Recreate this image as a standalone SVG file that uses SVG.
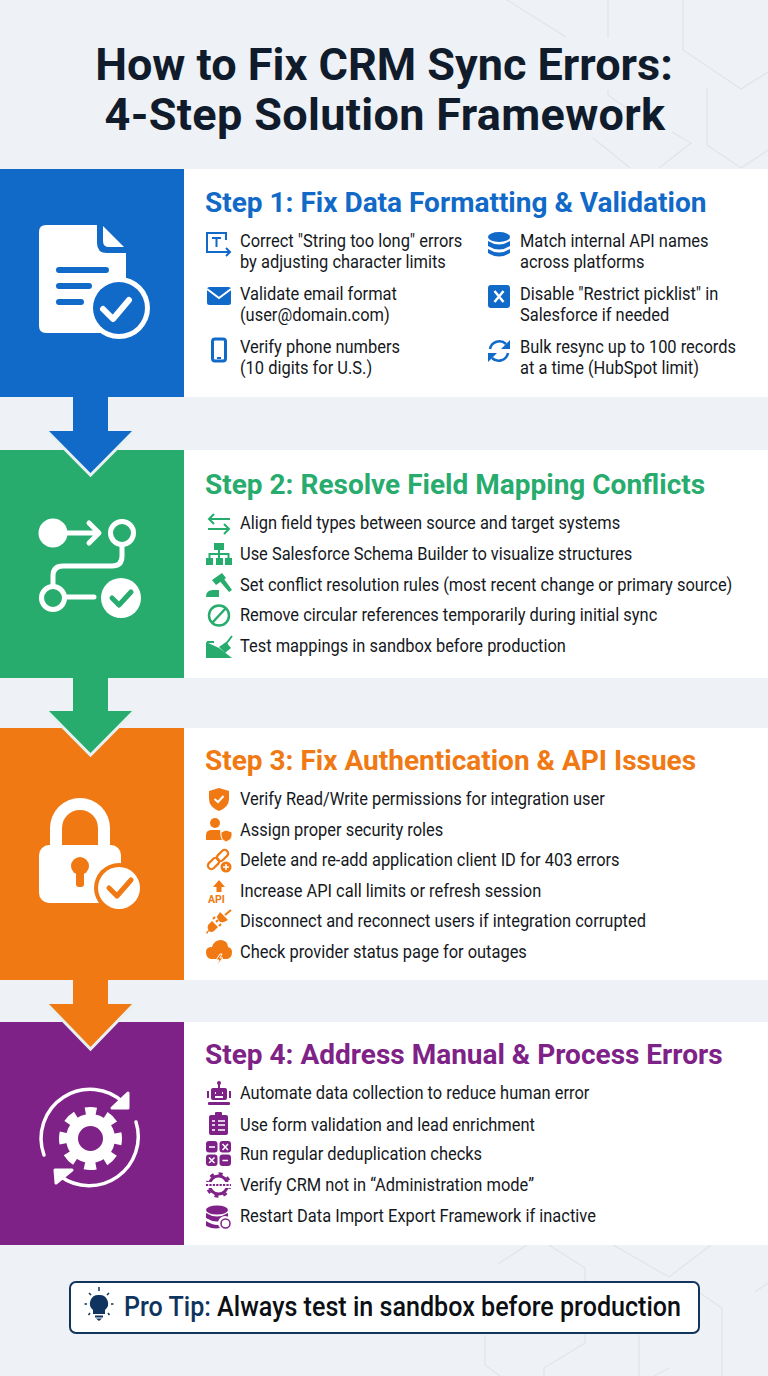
<svg xmlns="http://www.w3.org/2000/svg" width="768" height="1376" viewBox="0 0 768 1376">
<style>
text{font-family:Roboto,"Liberation Sans",sans-serif}
.title{font-size:45px;font-weight:700;fill:#101c2c;text-anchor:middle}
.h{font-size:28px;font-weight:700}
.t{font-size:17.5px;font-weight:400;fill:#15181d}
.bl{fill:#1169c8}.gr{fill:#27ac6e}.or{fill:#f07913}.pu{fill:#7e2287}
.sb{fill:none;stroke:#1169c8}.sg{fill:none;stroke:#27ac6e}.so{fill:none;stroke:#f07913}.sp{fill:none;stroke:#7e2287}
.w{fill:#fff}.sw{fill:none;stroke:#fff}
.hex{fill:none;stroke:#e0e5ea;stroke-width:1.2}
.v{fill:none;stroke:#e8f1f2;stroke-width:6}
</style>
<rect width="768" height="1376" fill="#eef1f5"/>
<g id="background-lines" class="hex">
<path d="M507 0L566 37M608 0V38M683 0V50L741 89L768 72M608 90V95L640 118M707 88V145L741 168L768 150M593 138L630 168M672 132L691 143L659 168"/>
<path d="M498 1264L527 1245M549 1245L585 1268V1343L544 1368V1376M613 1245L669 1277L711 1245M755 1292L768 1283M700 1293L722 1308V1376M485 1335V1365L500 1376M639 1335V1376M669 1368L654 1376"/>
</g>
<g id="title">
<text class="title" x="384" y="80">How to Fix CRM Sync Errors:</text>
<text class="title" x="385" y="130" letter-spacing=".33">4-Step Solution Framework</text>
</g>

<g id="step1">
<rect x="184" y="169" width="584" height="228" fill="#fff"/>
<rect y="169" width="184" height="228" class="bl"/>
<g id="step1-icon">
<path class="w" d="M46 225H97V243Q97 253 107 253H126V320Q126 333 113 333H46Q39 333 39 326V232Q39 225 46 225Z"/>
<path class="w" d="M103 226L124 247H109Q103 247 103 241Z"/>
<g class="sb" stroke-width="6" stroke-linecap="round"><path d="M59 270H106M59 286H89M59 302H81"/></g>
<circle cx="119" cy="308" r="31" class="w"/><circle cx="119" cy="308" r="26" class="bl"/>
<path class="sw" stroke-width="6" stroke-linecap="round" stroke-linejoin="round" d="M103 309L113 319L129 300"/>
</g>
<text class="h bl" x="205" y="212">Step 1: Fix Data Formatting &amp; Validation</text>
<g id="step1-list-icons">
<path class="sb" stroke-width="2" d="M226 240V233H207V252H219"/>
<path class="sb" stroke-width="2" d="M212 238H221M216.500 238V247M218 252H230M226 248L230 252L226 256"/>
<rect x="207" y="287" width="24" height="18" rx="2.500" class="bl"/><path class="sw" stroke-width="2" d="M207 289L219 298L231 289"/>
<rect x="212.500" y="339" width="13" height="22" rx="2.500" class="sb" stroke-width="3"/><rect x="217" y="357" width="4" height="2" class="bl"/>
<g class="bl"><ellipse cx="499" cy="237" rx="11" ry="5"/><path d="M488 241Q499 248 510 241V246Q499 253 488 246Z"/><path d="M488 249Q499 256 510 249V253Q499 260 488 253Z"/></g>
<rect x="488" y="285" width="22" height="23" rx="3" class="bl"/><path class="sw" stroke-width="2.500" d="M494.500 291L503.500 302M503.500 291L494.500 302"/>
<g class="sb" stroke-width="2.500"><path d="M490 349A9.500 9.500 0 0 1 506 344"/><path d="M508 353A9.500 9.500 0 0 1 492 358"/></g>
<path class="bl" d="M510 340V349H501ZM488 362V353H497Z"/>
</g>
<g class="t" transform="scale(.94 1)">
<text x="255.300" y="247.500">Correct "String too long" errors</text><text x="255.300" y="268">by adjusting character limits</text>
<text x="255.300" y="300.500">Validate email format</text><text x="255.300" y="321">(user@domain.com)</text>
<text x="255.300" y="353.500">Verify phone numbers</text><text x="255.300" y="374">(10 digits for U.S.)</text>
<text x="553.200" y="247.500">Match internal API names</text><text x="553.200" y="268">across platforms</text>
<text x="553.200" y="300.500">Disable "Restrict picklist" in</text><text x="553.200" y="321">Salesforce if needed</text>
<text x="553.200" y="353.500">Bulk resync up to 100 records</text><text x="553.200" y="374">at a time (HubSpot limit)</text>
</g>
</g>

<g id="step2">
<rect x="184" y="450" width="584" height="228" fill="#fff"/>
<rect y="450" width="184" height="228" class="gr"/>
<g id="step2-icon">
<circle cx="53" cy="533" r="14.500" class="w"/>
<g class="sw" stroke-width="5" stroke-linecap="round" stroke-linejoin="round">
<path d="M66 533H98M89 523L99 533L89 543"/>
<circle cx="122" cy="533" r="11.500"/><circle cx="53" cy="598" r="11.500"/>
<path d="M122 546V556Q122 566 112 566H63Q53 566 53 576V585M66 597H94"/>
</g>
<circle cx="121" cy="598" r="20" class="w"/>
<path class="sg" stroke-width="5" stroke-linecap="round" stroke-linejoin="round" d="M112 598L119 605L131 592"/>
</g>
<text class="h gr" x="205" y="494">Step 2: Resolve Field Mapping Conflicts</text>
<g id="step2-list-icons">
<g class="sg" stroke-width="2"><path d="M230 519H209M214 514L209 519L214 524M208 529H229M224 524L229 529L224 534"/></g>
<g class="gr"><rect x="214" y="543" width="10" height="7"/><rect x="206" y="558" width="7" height="7"/><rect x="216" y="558" width="7" height="7"/><rect x="225" y="558" width="7" height="7"/></g>
<path class="sg" stroke-width="2" d="M219 550V558M209.500 558V554H228.500V558"/>
<g class="gr"><path d="M206 597Q206 590 213 590H219V597Z"/><path d="M212 580L222 573L226 578L216 585Z"/><path d="M218 579L222 576L232 590L229 592Z"/></g>
<circle cx="219" cy="615.500" r="10" class="sg" stroke-width="2.500"/><path class="sg" stroke-width="2.500" d="M212 623L226 608"/>
<path class="gr" d="M206 642L219 648L232 658H206Z"/><path class="gr" d="M219 647L226 642L231 648L225 653Z"/>
<path class="sg" stroke-width="2" d="M226 644L232 636M207 642H214"/>
</g>
<g class="t" transform="scale(.94 1)">
<text x="255.300" y="529">Align field types between source and target systems</text>
<text x="255.300" y="560">Use Salesforce Schema Builder to visualize structures</text>
<text x="255.300" y="591">Set conflict resolution rules (most recent change or primary source)</text>
<text x="255.300" y="621.500">Remove circular references temporarily during initial sync</text>
<text x="255.300" y="652">Test mappings in sandbox before production</text>
</g>
</g>

<g id="step3">
<rect x="184" y="728" width="584" height="252" fill="#fff"/>
<rect y="728" width="184" height="252" class="or"/>
<g id="step3-icon">
<path class="w" d="M50 850V828A30 30 0 0 1 110 828V850H98V828A18 18 0 0 0 62 828V850Z"/>
<rect x="39" y="845" width="82" height="58" rx="10" class="w"/>
<circle cx="80" cy="866" r="9" class="or"/><rect x="76" y="866" width="8" height="21" rx="3" class="or"/>
<circle cx="119" cy="888" r="25" class="or"/><circle cx="119" cy="888" r="21" class="w"/>
<path class="so" stroke-width="5" stroke-linecap="round" stroke-linejoin="round" d="M109 888L117 896L131 880"/>
</g>
<text class="h or" x="205" y="770">Step 3: Fix Authentication &amp; API Issues</text>
<g id="step3-list-icons">
<path class="or" d="M219 788L229 791V799Q229 807 219 811Q209 807 209 799V791Z"/><path class="sw" stroke-width="2" d="M214.500 799L218 802L223.500 796"/>
<circle cx="215" cy="823" r="5" class="or"/><path class="or" d="M206 840V835Q206 830 212 830H220L222 840Z"/><path class="or" d="M226 830L232 832V836Q232 840 226 842Q221 840 221 836V832Z" stroke="#fff"/>
<g class="so" stroke-width="2.200"><rect x="207" y="860" width="13" height="7" rx="3.500" transform="rotate(-45 213.500 863.500)"/><rect x="216" y="852" width="13" height="7" rx="3.500" transform="rotate(-45 222.500 855.500)"/></g>
<circle cx="226" cy="867" r="5.500" class="or"/><path class="sw" stroke-width="1.500" d="M223 867H229M226 864V870"/>
<path class="or" d="M219 880L225 887H221.500V892H216.500V887H213Z"/>
<text x="208" y="903" font-size="10.500" font-weight="700" class="or">API</text>
<g class="or"><path d="M212 921L218 927L214 931Q211 933 209 931L207 934L206 932.500L208.500 930Q207 928 208 925Z"/><path d="M220 912L228 920L224 922Q221 923 219 921L218 919Q216 917 218 915Z"/></g>
<path class="so" stroke-width="2" d="M225 915L231 910M216 922L218 920M213 919L215 917M219 926L221 924"/>
<path class="or" d="M211 959Q206 958 206 952Q206 947 212 947Q214 940 221 940Q228 941 228 947Q232 948 232 952Q232 958 227 959Z"/>
<path class="or" d="M220 954L216 960H219L217 965L223 958H220L222 954Z" stroke="#fff" stroke-width="1"/>
</g>
<g class="t" transform="scale(.94 1)">
<text x="255.300" y="805">Verify Read/Write permissions for integration user</text>
<text x="255.300" y="836">Assign proper security roles</text>
<text x="255.300" y="866.500">Delete and re-add application client ID for 403 errors</text>
<text x="255.300" y="897">Increase API call limits or refresh session</text>
<text x="255.300" y="927.500">Disconnect and reconnect users if integration corrupted</text>
<text x="255.300" y="958">Check provider status page for outages</text>
</g>
</g>

<g id="step4">
<rect x="184" y="1022" width="584" height="223" fill="#fff"/>
<rect y="1022" width="184" height="223" class="pu"/>
<g id="step4-icon">
<circle cx="90.500" cy="1138.500" r="18.500" class="sw" stroke-width="12"/>
<circle cx="90.500" cy="1138.500" r="27" class="sw" stroke-width="9" stroke-dasharray="11.500 9.700" stroke-dashoffset="5.750" transform="rotate(-90 90.500 1138.500)"/>
<g class="sw" stroke-width="3.500" stroke-linecap="round" stroke-linejoin="round">
<path d="M44 1155A49 49 0 0 1 124 1103"/>
<path d="M136 1122A49 49 0 0 1 60 1176"/>
</g>
<path class="w" d="M128 1093L128 1108H112Z" stroke="#fff" stroke-width="3" stroke-linejoin="round"/>
<path class="w" d="M55 1170L72 1170L56 1183Z" stroke="#fff" stroke-width="3" stroke-linejoin="round"/>
</g>
<text class="h pu" x="205" y="1064">Step 4: Address Manual &amp; Process Errors</text>
<g id="step4-list-icons">
<g class="pu"><rect x="211" y="1088" width="16" height="12" rx="2"/><circle cx="219" cy="1083" r="2"/><rect x="218" y="1084" width="2" height="5"/><rect x="207" y="1091" width="2" height="7"/><rect x="229" y="1091" width="2" height="7"/><rect x="208" y="1102" width="22" height="3" rx="1"/></g>
<path class="sw" stroke-width="2" d="M215 1093H216M222 1093H223M215 1097H223"/>
<rect x="209" y="1115" width="19" height="20" rx="2" class="pu"/><rect x="215" y="1112" width="7" height="5" rx="1" class="pu"/>
<path class="sw" stroke-width="1.500" d="M212 1121H215M218 1121H225M212 1125H215M218 1125H225M212 1130H215M218 1130H225"/>
<g class="pu"><rect x="206" y="1141" width="11.500" height="11.500" rx="3"/><rect x="219.500" y="1141" width="11.500" height="11.500" rx="3"/><rect x="206" y="1154.500" width="11.500" height="11.500" rx="3"/><rect x="219.500" y="1154.500" width="11.500" height="11.500" rx="3"/></g>
<path class="sw" stroke-width="1.500" d="M209 1147H215M222.500 1144L228 1150M228 1144L222.500 1150M209 1157.500L214.500 1163M214.500 1157.500L209 1163M222.500 1160.500H228"/>
<circle cx="218.500" cy="1185" r="9" class="sp" stroke-width="3"/>
<circle cx="218.500" cy="1185" r="11.500" class="sp" stroke-width="2.500" stroke-dasharray="4 5"/>
<rect x="205" y="1182" width="27" height="6" fill="#fff"/>
<path class="sp" stroke-width="1.800" d="M206 1185H231" stroke-dasharray="2.200 1.200"/>
<g class="pu"><ellipse cx="217" cy="1210" rx="11" ry="4.500"/><path d="M206 1213Q217 1220 228 1213V1218Q217 1225 206 1218Z"/><path d="M206 1221Q217 1228 224 1223V1226Q217 1231 206 1226Z"/></g>
<circle cx="225" cy="1223" r="7" fill="#fff"/><circle cx="225.500" cy="1223.500" r="4.500" class="sp" stroke-width="1.500"/>
</g>
<g class="t" transform="scale(.94 1)">
<text x="255.300" y="1099.500">Automate data collection to reduce human error</text>
<text x="255.300" y="1130.500">Use form validation and lead enrichment</text>
<text x="255.300" y="1160.500">Run regular deduplication checks</text>
<text x="255.300" y="1191.500">Verify CRM not in “Administration mode”</text>
<text x="255.300" y="1222.500">Restart Data Import Export Framework if inactive</text>
</g>
</g>

<g id="connectors">
<path class="v" d="M49 431L90.500 473L132 431"/>
<path class="bl" d="M73 397H108V431H132L90.500 473L49 431H73Z"/>
<path class="v" d="M49 711L90.500 753L132 711"/>
<path class="gr" d="M73 678H108V711H132L90.500 753L49 711H73Z"/>
<path class="v" d="M49 1004L90.500 1047L132 1004"/>
<path class="or" d="M73 980H108V1004H132L90.500 1047L49 1004H73Z"/>
</g>

<g id="pro-tip">
<rect x="70" y="1282" width="629" height="51" rx="6" fill="#fff" stroke="#12355b" stroke-width="2"/>
<g id="bulb">
<path fill="#0f3460" d="M99 1295A8.500 8.500 0 0 1 105 1310V1314H93V1310A8.500 8.500 0 0 1 99 1295Z"/>
<rect x="95" y="1315.500" width="8" height="2" fill="#0f3460"/><path fill="#0f3460" d="M96 1318.500H102L99 1321Z"/>
<path stroke="#0f3460" stroke-width="1.500" fill="none" d="M99 1291V1287M91 1295L89 1293M107 1295L109 1293M87 1304H84.500M111 1304H113.500M90 1313L88.500 1315M108 1313L109.500 1315"/>
</g>
<text transform="scale(.93 1)" x="133.300" y="1316" font-size="27" font-weight="500"><tspan fill="#0f3460">Pro Tip:</tspan><tspan fill="#0c0f14"> Always test in sandbox before production</tspan></text>
</g>
</svg>
